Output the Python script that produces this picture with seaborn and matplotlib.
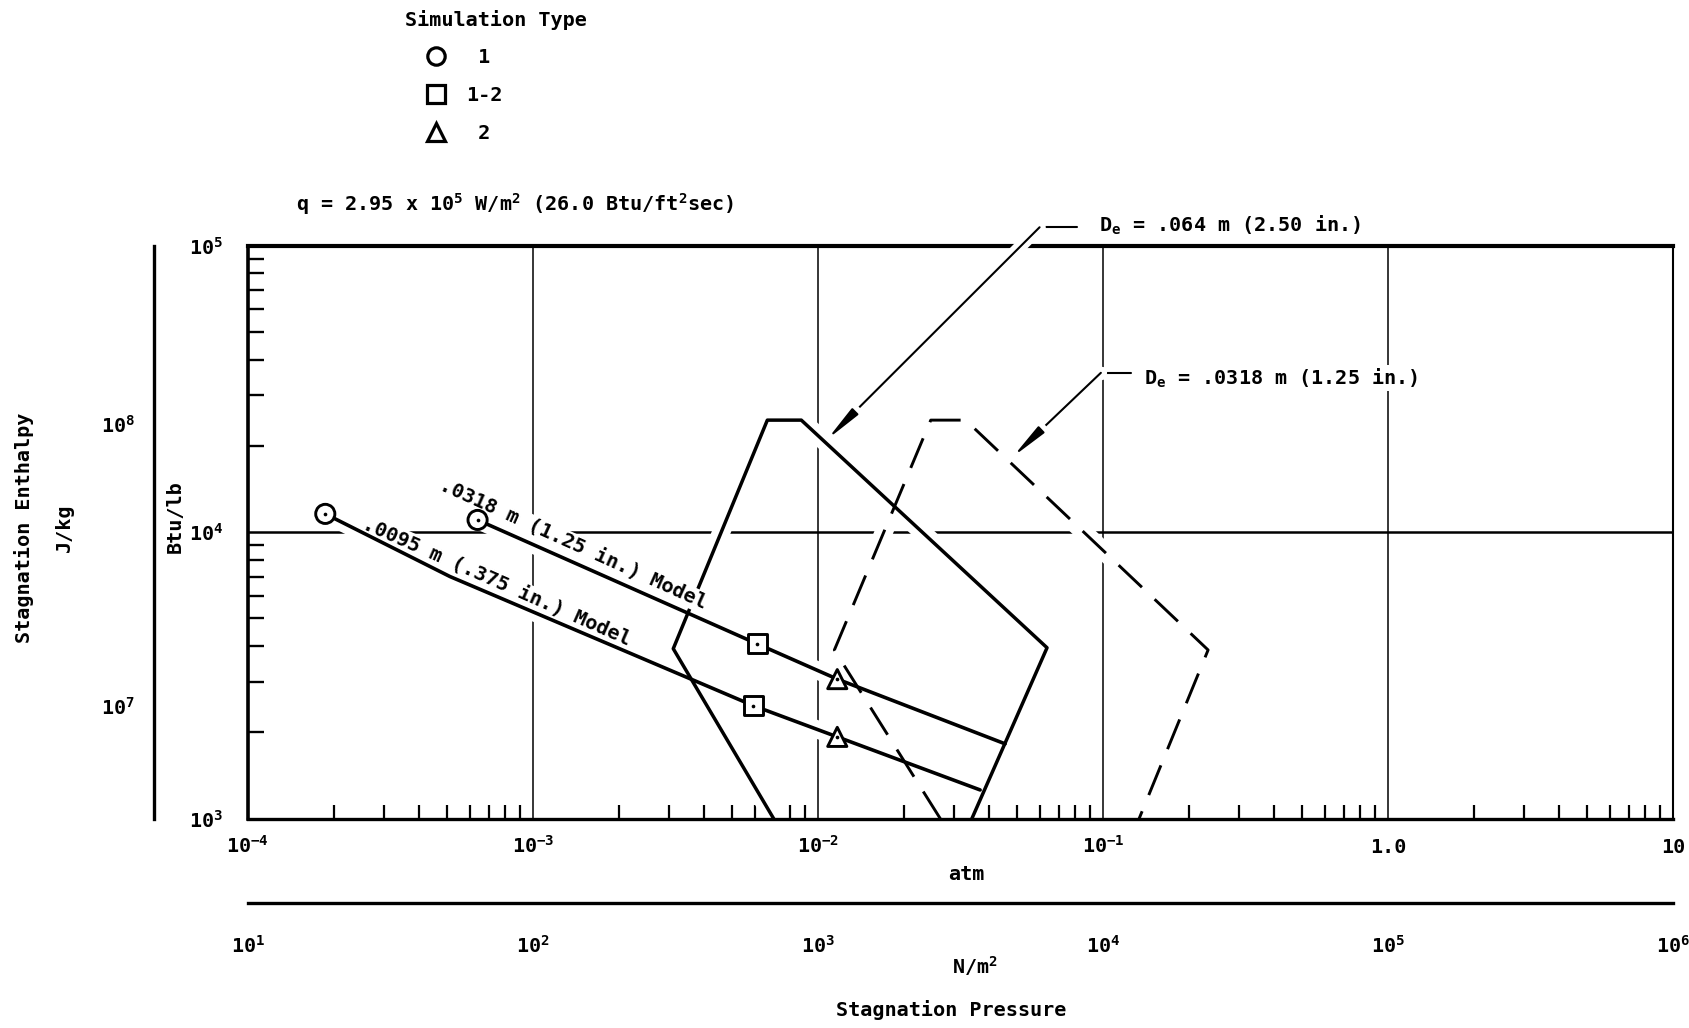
import matplotlib
matplotlib.use("Agg")
import matplotlib.pyplot as plt
import matplotlib.patheffects as pe
from matplotlib.lines import Line2D
from matplotlib.ticker import FixedLocator, LogLocator, NullFormatter, NullLocator
import pandas as pd
import seaborn as sns

# ---- data -------------------------------------------------------------
# .0095 m (.375 in.) model: stagnation pressure [atm] vs stagnation enthalpy [Btu/lb]
small_model_pressure = [1.87e-4, 5.12e-4, 5.94e-3, 1.17e-2, 3.71e-2]
small_model_enthalpy = [11580, 7000, 2480, 1930, 1260]
small_model_simtype = ["1", None, "1-2", "2", None]

# .0318 m (1.25 in.) model
large_model_pressure = [6.40e-4, 6.13e-3, 1.17e-2, 4.54e-2]
large_model_enthalpy = [11030, 4075, 3070, 1825]
large_model_simtype = ["1", "1-2", "2", None]

# facility envelopes: D_e = .064 m (solid) and D_e = .0318 m (dashed)
env_064_pressure = [7.0e-3, 3.11e-3, 6.65e-3, 8.75e-3, 6.37e-2, 3.47e-2]
env_064_enthalpy = [1000, 3920, 24600, 24600, 3950, 1000]
env_0318_pressure = [2.69e-2, 1.143e-2, 2.49e-2, 3.30e-2, 2.34e-1, 1.34e-1]
env_0318_enthalpy = [1000, 3880, 24600, 24600, 3880, 1000]

# axis ticks and labels
atm_ticks = [1e-4, 1e-3, 1e-2, 1e-1, 1.0, 10.0]
atm_labels = [r"$10^{-4}$", r"$10^{-3}$", r"$10^{-2}$", r"$10^{-1}$", "1.0", "10"]
pa_ticks = [1e1, 1e2, 1e3, 1e4, 1e5, 1e6]
pa_labels = [r"$10^{1}$", r"$10^{2}$", r"$10^{3}$", r"$10^{4}$", r"$10^{5}$", r"$10^{6}$"]
btu_ticks = [1e3, 1e4, 1e5]
btu_labels = [r"$10^{3}$", r"$10^{4}$", r"$10^{5}$"]
jkg_ticks = [1e7, 1e8]
jkg_labels = [r"$10^{7}$", r"$10^{8}$"]

sim_types = ["1", "1-2", "2"]
sim_markers = {"1": "o", "1-2": "s", "2": "^"}

# ---- style ------------------------------------------------------------
sns.set_theme(style="white", rc={
    "axes.edgecolor": "black", "text.color": "black",
    "xtick.color": "black", "ytick.color": "black",
    "axes.labelcolor": "black",
})
plt.rcParams["font.family"] = ["DejaVu Sans Mono", "DejaVu Sans"]
plt.rcParams["font.weight"] = "bold"
plt.rcParams["mathtext.fontset"] = "custom"
plt.rcParams["mathtext.rm"] = "DejaVu Sans Mono:bold"
plt.rcParams["mathtext.it"] = "DejaVu Sans Mono:bold"
plt.rcParams["mathtext.bf"] = "DejaVu Sans Mono:bold"
plt.rcParams["mathtext.default"] = "rm"
FS = 14.5

W, H = 1689, 1028
fig = plt.figure(figsize=(W / 100, H / 100), dpi=100)
fig.patch.set_facecolor("white")

def fx(px):
    return px / W

def fy(py):
    return 1 - py / H

AX_L, AX_R, AX_T, AX_B = 247.8, 1672.9, 245.6, 818.7
ax = fig.add_axes([fx(AX_L), fy(AX_B), fx(AX_R - AX_L), (AX_B - AX_T) / H])
ax.set_facecolor("white")
ax.set_xscale("log")
ax.set_yscale("log")
ax.set_xlim(1e-4, 10)
ax.set_ylim(1e3, 1e5)

# decade grid lines
for xv in atm_ticks[1:-1]:
    ax.axvline(xv, color="black", lw=1.1, zorder=1)
ax.axhline(1e4, color="black", lw=1.8, zorder=1)

# white underlay so the grid breaks where curves cross it
halo = dict(color="white", lw=13, sort=False, estimator=None, ax=ax,
            legend=False, solid_capstyle="round", zorder=1.5)
for px_, py_ in [(env_064_pressure, env_064_enthalpy),
                 (env_0318_pressure, env_0318_enthalpy),
                 (small_model_pressure, small_model_enthalpy),
                 (large_model_pressure, large_model_enthalpy)]:
    sns.lineplot(x=px_, y=py_, **halo)

# envelopes
sns.lineplot(x=env_064_pressure, y=env_064_enthalpy, sort=False, estimator=None,
             color="black", lw=2.5, ax=ax, zorder=3, legend=False)
sns.lineplot(x=env_0318_pressure, y=env_0318_enthalpy, sort=False, estimator=None,
             color="black", lw=2.1, linestyle=(0, (11, 6)), ax=ax, zorder=3,
             legend=False)

# model trajectories
sns.lineplot(x=small_model_pressure, y=small_model_enthalpy, sort=False,
             estimator=None, color="black", lw=2.6, ax=ax, zorder=3.5, legend=False)
sns.lineplot(x=large_model_pressure, y=large_model_enthalpy, sort=False,
             estimator=None, color="black", lw=2.6, ax=ax, zorder=3.5, legend=False)

# simulation-type markers with centre dots
pts = pd.DataFrame({
    "pressure": small_model_pressure + large_model_pressure,
    "enthalpy": small_model_enthalpy + large_model_enthalpy,
    "Simulation Type": small_model_simtype + large_model_simtype,
}).dropna()
sns.scatterplot(data=pts, x="pressure", y="enthalpy", style="Simulation Type",
                style_order=sim_types, markers=sim_markers, s=190,
                color="white", edgecolor="black", linewidth=2.1, ax=ax,
                zorder=5, legend=False)
sns.scatterplot(data=pts, x="pressure", y="enthalpy", color="black", s=7,
                linewidth=0, ax=ax, zorder=6, legend=False)

# labels along the trajectories
lbl_kw = dict(fontsize=FS, rotation_mode="anchor", ha="left", va="baseline",
              zorder=3.2, bbox=dict(facecolor="white", edgecolor="none", pad=1.0))
ax.text(2.50e-4, 10350, ".0095 m (.375 in.) Model", rotation=-23.8, **lbl_kw)
ax.text(4.65e-4, 14100, ".0318 m (1.25 in.) Model", rotation=-24.3, **lbl_kw)

# envelope call-outs
lead_kw = dict(color="black", lw=1.5, clip_on=False, zorder=2.6,
               path_effects=[pe.withStroke(linewidth=9, foreground="white")])
arrow_kw = dict(arrowstyle="-|>,head_length=1.1,head_width=0.13", mutation_scale=20,
                color="black", lw=1.5, shrinkA=0, shrinkB=0,
                path_effects=[pe.withStroke(linewidth=9, foreground="white")])

ax.plot([10 ** -1.222, 10 ** -1.092], [10 ** 5.064] * 2, **lead_kw)
ax.annotate("", xy=(10 ** -1.968, 10 ** 4.323), xytext=(10 ** -1.222, 10 ** 5.064),
            arrowprops=arrow_kw, annotation_clip=False, zorder=2.6)
ax.text(10 ** -1.014, 10 ** 5.072, r"$D_e$ = .064 m (2.50 in.)", fontsize=FS,
        ha="left", va="center", clip_on=False, zorder=3.2,
        bbox=dict(facecolor="white", edgecolor="none", pad=1.0))

ax.plot([10 ** -1.007, 10 ** -0.901], [10 ** 4.556] * 2, **lead_kw)
ax.annotate("", xy=(10 ** -1.317, 10 ** 4.262), xytext=(10 ** -1.007, 10 ** 4.556),
            arrowprops=arrow_kw, annotation_clip=False, zorder=2.6)
ax.text(10 ** -0.856, 10 ** 4.538, r"$D_e$ = .0318 m (1.25 in.)", fontsize=FS,
        ha="left", va="center", zorder=3.2,
        bbox=dict(facecolor="white", edgecolor="none", pad=1.0))

# ---- main axes ticks and frame ---------------------------------------
ax.xaxis.set_major_locator(FixedLocator(atm_ticks))
ax.set_xticklabels(atm_labels, fontsize=FS)
ax.xaxis.set_minor_locator(LogLocator(base=10, subs=range(2, 10), numticks=60))
ax.xaxis.set_minor_formatter(NullFormatter())
ax.yaxis.set_major_locator(FixedLocator(btu_ticks))
ax.set_yticklabels(btu_labels, fontsize=FS)
ax.yaxis.set_minor_locator(LogLocator(base=10, subs=range(2, 10), numticks=60))
ax.yaxis.set_minor_formatter(NullFormatter())
ax.tick_params(axis="x", which="major", length=0, pad=24.5, bottom=True, top=False)
ax.tick_params(axis="x", which="minor", direction="in", length=10, width=1.6,
               bottom=True, top=False)
ax.tick_params(axis="y", which="major", length=0, pad=18, left=True, right=False)
ax.tick_params(axis="y", which="minor", direction="in", length=11.5, width=1.7,
               left=True, right=False)
for lbl in ax.get_xticklabels():
    lbl.set_verticalalignment("baseline")
ax.set_xlabel("")
ax.set_ylabel("")
ax.spines["top"].set_linewidth(3.0)
ax.spines["left"].set_linewidth(2.6)
ax.spines["bottom"].set_linewidth(2.4)
ax.spines["right"].set_linewidth(1.5)
for s in ax.spines.values():
    s.set_visible(True)
    s.set_color("black")

# ---- J/kg scale on the far left --------------------------------------
axj = fig.add_axes([fx(154), fy(AX_B), 0.0005, (AX_B - AX_T) / H])
axj.set_yscale("log")
axj.set_ylim(10 ** 6.599, 10 ** 8.635)
axj.yaxis.set_major_locator(FixedLocator(jkg_ticks))
axj.set_yticklabels(jkg_labels, fontsize=FS)
axj.yaxis.set_minor_locator(NullLocator())
axj.set_xticks([])
axj.tick_params(axis="y", which="major", direction="in", length=16.5, width=2.0, pad=14)
axj.patch.set_visible(False)
for k, s in axj.spines.items():
    s.set_visible(k == "left")
axj.spines["left"].set_linewidth(2.4)
axj.spines["left"].set_color("black")

# ---- N/m^2 scale below ------------------------------------------------
PA_Y = 903
axp = fig.add_axes([fx(AX_L), fy(PA_Y), fx(AX_R - AX_L), 0.0005])
axp.set_xscale("log")
axp.set_xlim(1e1, 1e6)
axp.xaxis.set_major_locator(FixedLocator(pa_ticks))
axp.set_xticklabels(pa_labels, fontsize=FS)
axp.xaxis.set_minor_locator(NullLocator())
axp.set_yticks([])
axp.tick_params(axis="x", which="major", direction="in", length=12, width=1.8, pad=36)
for lbl in axp.get_xticklabels():
    lbl.set_verticalalignment("baseline")
axp.patch.set_visible(False)
for k, s in axp.spines.items():
    s.set_visible(k == "bottom")
axp.spines["bottom"].set_linewidth(2.4)
axp.spines["bottom"].set_color("black")

# ---- titles and axis names -------------------------------------------
fig.text(fx(23.7), fy(528), "Stagnation Enthalpy", rotation=90, ha="center",
         va="center", fontsize=FS)
fig.text(fx(64.6), fy(528), "J/kg", rotation=90, ha="center", va="center", fontsize=FS)
fig.text(fx(175.6), fy(517), "Btu/lb", rotation=90, ha="center", va="center", fontsize=FS)
fig.text(fx(966), fy(874), "atm", ha="center", va="center", fontsize=FS)
fig.text(fx(975), fy(966), r"N/m$^2$", ha="center", va="center", fontsize=FS)
fig.text(fx(951), fy(1010), "Stagnation Pressure", ha="center", va="center", fontsize=FS)
fig.text(fx(296), fy(203.6),
         r"q = 2.95 x 10$^5$ W/m$^2$ (26.0 Btu/ft$^2$sec)",
         ha="left", va="center", fontsize=FS)

# ---- simulation type key ---------------------------------------------
fig.text(fx(405), fy(20), "Simulation Type", ha="left", va="center", fontsize=FS)
key_handles = [Line2D([], [], marker=sim_markers[t], ls="none", markersize=12.5,
                      markerfacecolor="white", markeredgecolor="black",
                      markeredgewidth=2.3) for t in sim_types]
key_labels = [t.center(3) for t in sim_types]
fig.legend(key_handles, key_labels, loc="upper left",
           bbox_to_anchor=(fx(426), fy(48)), frameon=False, fontsize=FS,
           handlelength=1.0, handletextpad=1.0, labelspacing=0.95,
           borderpad=0, borderaxespad=0)

fig.savefig("out.png", dpi=100, facecolor="white")
